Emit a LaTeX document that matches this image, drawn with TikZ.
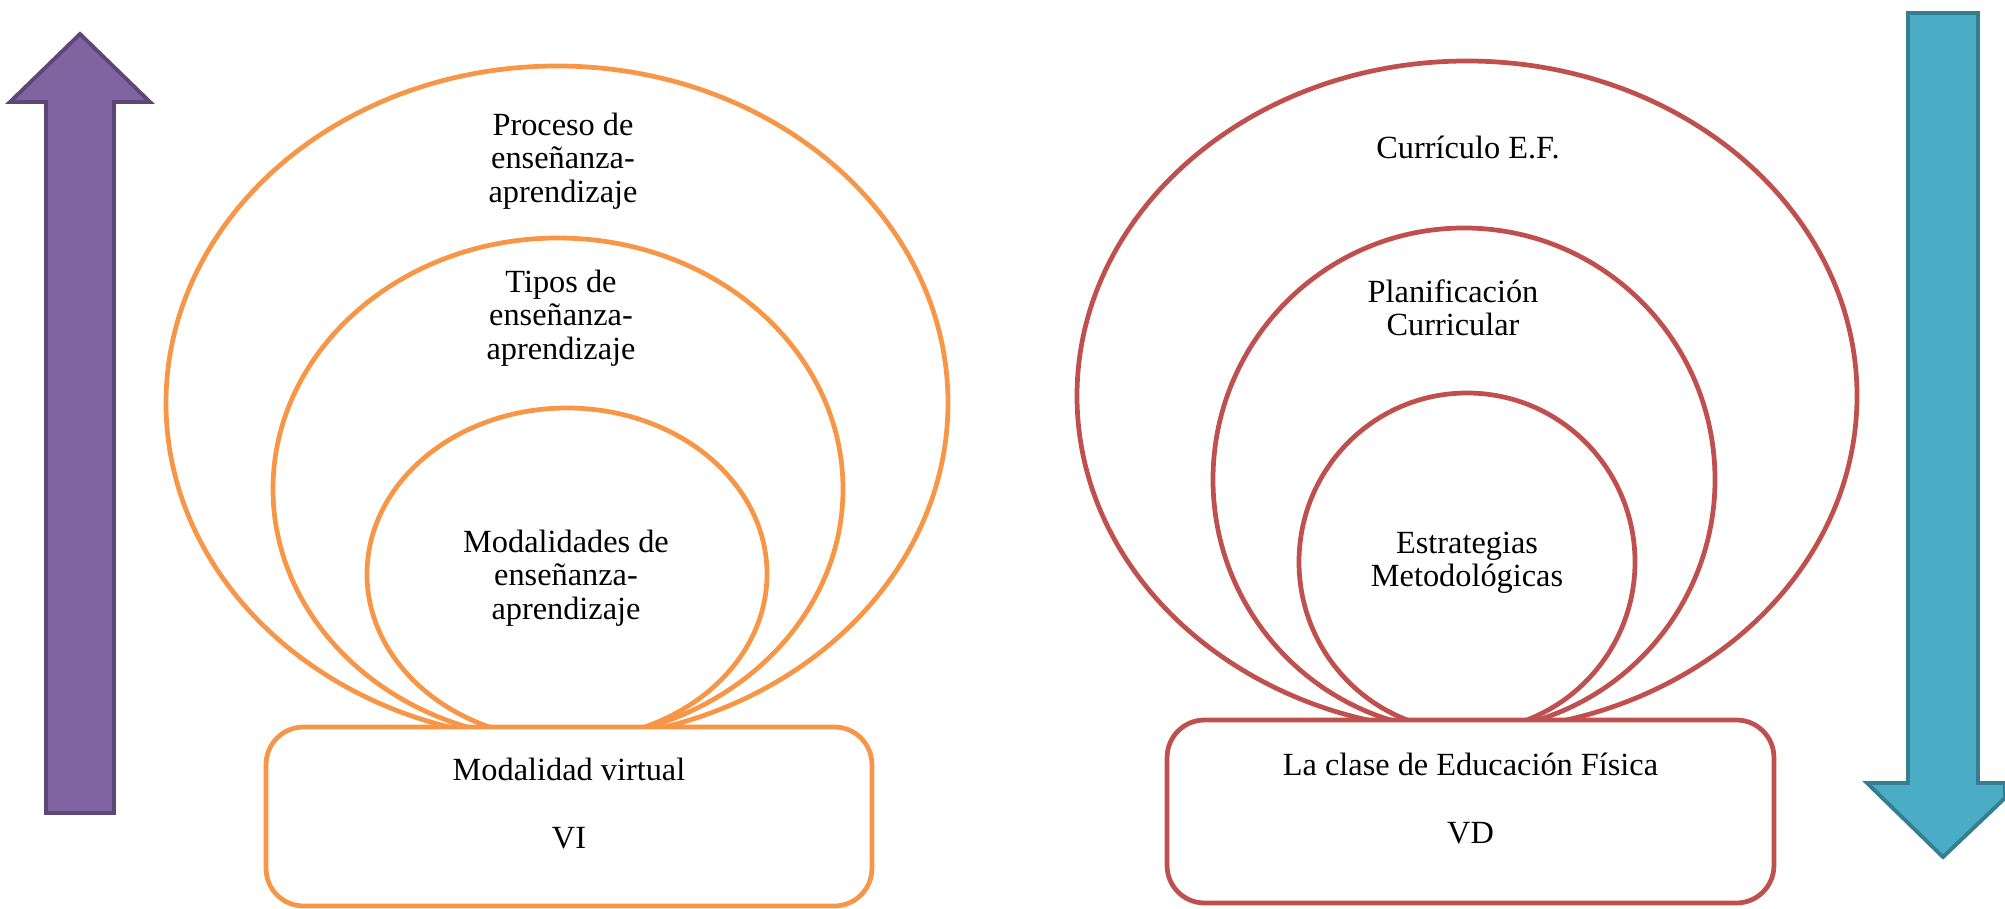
\documentclass[tikz,border=0pt]{standalone}
\usepackage{fontspec}
\setmainfont{Liberation Serif}
\definecolor{vorange}{HTML}{F79646}
\definecolor{vred}{HTML}{C0504D}
\definecolor{uppurple}{HTML}{8064A2}
\definecolor{uppurpleline}{HTML}{5C4776}
\definecolor{downblue}{HTML}{4BACC6}
\definecolor{downblueline}{HTML}{357D91}
\tikzset{
	ring/.style={line width=2.7pt},
	txt/.style={align=center, inner sep=0pt, font=\fontsize{18.4}{19}\selectfont},
	varbox/.style={fill=white, line width=2.7pt, rounded corners=0.75cm,
		align=center, font=\fontsize{18.4}{19}\selectfont, text depth=15pt}
}

\begin{document}
\begin{tikzpicture}[x=0.02cm, y=-0.02cm]
		%%%%% FRAME %%%%%
		\useasboundingbox (0, 0) rectangle (2005, 909);
		
		%%%%% ARROWS %%%%%
		\draw[line width=2.2pt, color=uppurpleline, fill=uppurple, line join=miter]
			(46, 813) -- (46, 102) -- (10, 102) -- (80, 34) -- (150, 102) -- (114, 102) -- (114, 813) -- cycle;
		\draw[line width=2.2pt, color=downblueline, fill=downblue, line join=miter]
			(1908, 13) -- (1978, 13) -- (1978, 783) -- (2005, 783) -- (2005, 798) -- (1943, 857) -- (1867, 783) -- (1908, 783) -- cycle;
		
		%%%%% LEFT: VI %%%%%
		\draw[ring, color=vorange] (557, 403) ellipse [x radius=391, y radius=337];
		\draw[ring, color=vorange] (558, 489) ellipse [x radius=285, y radius=251];
		\draw[ring, color=vorange] (567, 574) ellipse [x radius=200, y radius=166];
		
		\node[txt] (proceso) at (563, 161) {Proceso de\\enseñanza-\\aprendizaje};
		\node[txt] (tipos) at (561, 318) {Tipos de\\enseñanza-\\aprendizaje};
		\node[txt] (modalidades) at (566, 578) {Modalidades de\\enseñanza-\\aprendizaje};
		
		\node[varbox, draw=vorange, minimum width=12.12cm, minimum height=3.58cm]
			(vi) at (569, 816.5) {Modalidad virtual\\[20pt]VI};
		
		%%%%% RIGHT: VD %%%%%
		\draw[ring, color=vred] (1467, 396) ellipse [x radius=390, y radius=335];
		\draw[ring, color=vred] (1464, 479.5) ellipse [x radius=251, y radius=251.5];
		\draw[ring, color=vred] (1467, 562) ellipse [x radius=168, y radius=169];
		
		\node[txt] (curriculo) at (1468, 147) {Currículo E.F.};
		\node[txt] (planificacion) at (1453, 308) {Planificación\\Curricular};
		\node[txt] (estrategias) at (1467, 563) {Estrategias\\Metodológicas};
		
		\node[varbox, draw=vred, minimum width=12.14cm, minimum height=3.66cm]
			(vd) at (1470.5, 811.5) {La clase de Educación Física\\[20pt]VD};
		
		%%%%% END %%%%%
	\end{tikzpicture}
\end{document}
